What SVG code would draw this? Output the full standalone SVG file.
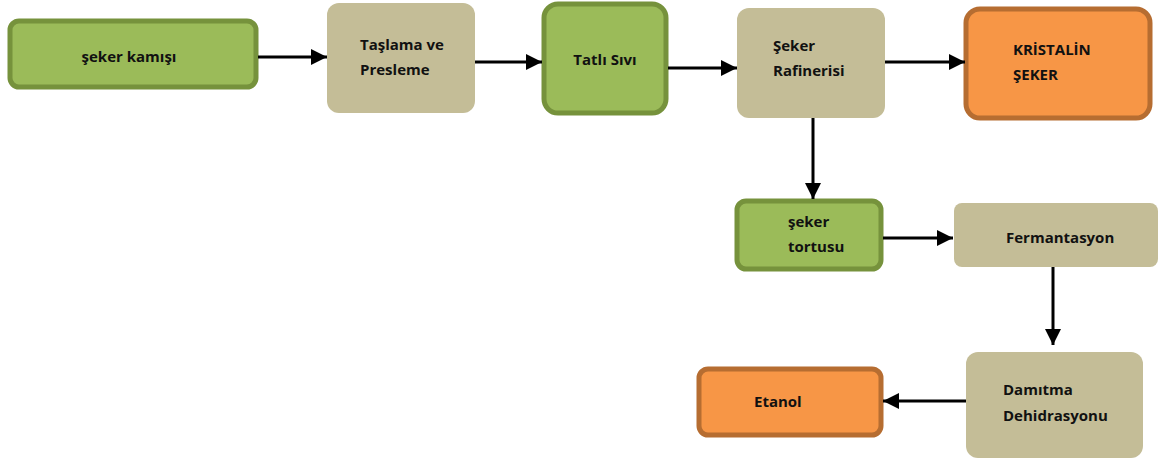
<svg xmlns="http://www.w3.org/2000/svg" width="1171" height="459" viewBox="0 0 1171 459">
<defs>
<marker id="ah" markerWidth="16" markerHeight="16" refX="16" refY="8" orient="auto" markerUnits="userSpaceOnUse">
<path d="M0,0 L16,8 L0,16 Z" fill="#000"/>
</marker>
<style>
.g{fill:#9BBB59;stroke:#76923C;stroke-width:5}
.t{fill:#C4BD97}
.o{fill:#F79646;stroke:#B66D31;stroke-width:5}
text{font-family:"Open Sans","Liberation Sans",sans-serif;font-weight:700;font-size:15px;fill:#111}
.c{stroke:#000;stroke-width:3;fill:none;marker-end:url(#ah)}
</style>
</defs>
<rect width="1171" height="459" fill="#fff"/>
<g id="n1"><rect class="g" x="10" y="21" width="246" height="66" rx="9"/><text x="129" y="62" text-anchor="middle">şeker kamışı</text></g>
<g id="n2"><rect class="t" x="327" y="3" width="148" height="110" rx="12"/><text x="360" y="50">Taşlama ve</text><text x="360" y="75">Presleme</text></g>
<g id="n3"><rect class="g" x="544" y="4" width="122" height="109" rx="14"/><text x="605" y="65" text-anchor="middle">Tatlı Sıvı</text></g>
<g id="n4"><rect class="t" x="737" y="8" width="148" height="110" rx="12"/><text x="773" y="51">Şeker</text><text x="773" y="76">Rafinerisi</text></g>
<g id="n5"><rect class="o" x="966" y="9" width="184" height="109" rx="14"/><text x="1013" y="55">KRİSTALİN</text><text x="1013" y="80">ŞEKER</text></g>
<g id="n6"><rect class="g" x="737" y="201" width="144" height="68" rx="9"/><text x="788" y="227">şeker</text><text x="788" y="252">tortusu</text></g>
<g id="n7"><rect class="t" x="954" y="203" width="204" height="64" rx="8"/><text x="1006" y="243">Fermantasyon</text></g>
<g id="n8"><rect class="t" x="966" y="352" width="177" height="106" rx="12"/><text x="1003" y="395">Damıtma</text><text x="1003" y="421">Dehidrasyonu</text></g>
<g id="n9"><rect class="o" x="699" y="369" width="182" height="66" rx="9"/><text x="754" y="407">Etanol</text></g>
<g id="connectors">
<line class="c" x1="258" y1="57" x2="327" y2="57"/>
<line class="c" x1="475" y1="62" x2="542" y2="62"/>
<line class="c" x1="668" y1="68" x2="737" y2="68"/>
<line class="c" x1="885" y1="62" x2="965" y2="62"/>
<line class="c" x1="813" y1="118" x2="813" y2="199"/>
<line class="c" x1="883" y1="238" x2="953" y2="238"/>
<line class="c" x1="1053" y1="267" x2="1053" y2="345"/>
<line class="c" x1="966" y1="401" x2="883" y2="401"/>
</g>
</svg>
